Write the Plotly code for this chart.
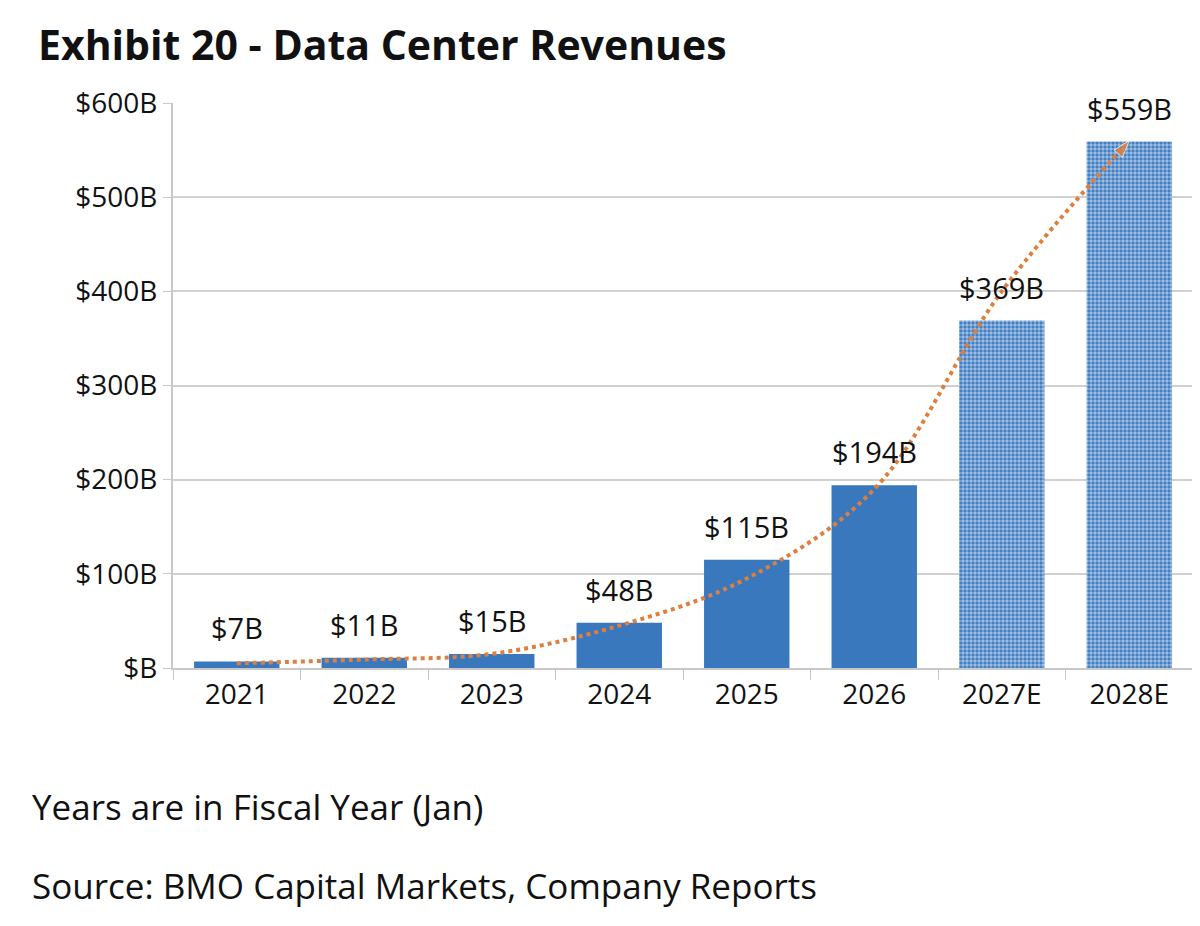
import plotly.graph_objects as go

years = ["2021", "2022", "2023", "2024", "2025", "2026", "2027E", "2028E"]
revenue = [7, 11, 15, 48, 115, 194, 369, 559]
labels = ["$7B", "$11B", "$15B", "$48B", "$115B", "$194B", "$369B", "$559B"]
estimate = [False, False, False, False, False, False, True, True]
trend = [5, 9, 15, 45, 95, 190, 400, 560]
yticks = [0, 100, 200, 300, 400, 500, 600]
yticklabels = ["$B", "$100B", "$200B", "$300B", "$400B", "$500B", "$600B"]

FONT = "Open Sans"
blue = "#3a78be"

fig = go.Figure()
fig.add_trace(go.Bar(
    x=years, y=revenue, width=0.67,
    marker=dict(
        color=blue,
        line=dict(width=0),
        pattern=dict(shape=["." if e else "" for e in estimate], fillmode="overlay",
                     fgcolor="#ffffff", size=4, solidity=0.6),
    ),
    showlegend=False,
))
n = len(years)
fig.add_trace(go.Scatter(
    x=years, y=trend, mode="lines+markers", line_shape="spline",
    line=dict(color="#dd7f3e", width=4, dash="dot"),
    marker=dict(symbol=["circle"] * (n - 1) + ["arrow"],
                size=[0] * (n - 1) + [18], angleref="previous", color="#dd7f3e"),
    showlegend=False, hoverinfo="skip",
))
for i, (v, t) in enumerate(zip(revenue, labels)):
    fig.add_annotation(x=i, y=v, text=t, showarrow=False, yanchor="bottom", yshift=12,
                       font=dict(size=29, color="#111", family=FONT))

fig.update_layout(
    width=1200, height=926,
    margin=dict(l=165, r=15, t=95, b=266),
    paper_bgcolor="white", plot_bgcolor="white",
    font=dict(family=FONT, color="#111"),
    title=dict(text="<b>Exhibit 20 - Data Center Revenues</b>", x=0.025, xanchor="left",
               y=0.975, yanchor="top", font=dict(size=41, family=FONT, color="#111")),
    bargap=0.33,
)
fig.update_yaxes(range=[0, 600], tickvals=yticks, ticktext=yticklabels,
                 tickfont=dict(size=28), showgrid=True, gridcolor="#d0d0d0", gridwidth=2,
                 zeroline=False, showline=True, linecolor="#c8c8c8", linewidth=2,
                 ticks="outside", ticklen=8, tickcolor="#c8c8c8")
fig.update_xaxes(type="category", categoryorder="array", categoryarray=years,
                 range=[-0.5, len(years) - 0.5],
                 tickfont=dict(size=28), showline=True, linecolor="#c8c8c8", linewidth=2,
                 ticks="outside", ticklen=10, tickcolor="#c8c8c8", tickson="boundaries",
                 tickangle=0)

fig.add_annotation(text="Years are in Fiscal Year (Jan)", xref="paper", yref="paper",
                   x=-0.14, y=-0.2, xanchor="left", yanchor="top", showarrow=False,
                   font=dict(size=35, family=FONT))
fig.add_annotation(text="Source: BMO Capital Markets, Company Reports", xref="paper", yref="paper",
                   x=-0.14, y=-0.34, xanchor="left", yanchor="top", showarrow=False,
                   font=dict(size=35, family=FONT))

fig.write_html("out.html")
